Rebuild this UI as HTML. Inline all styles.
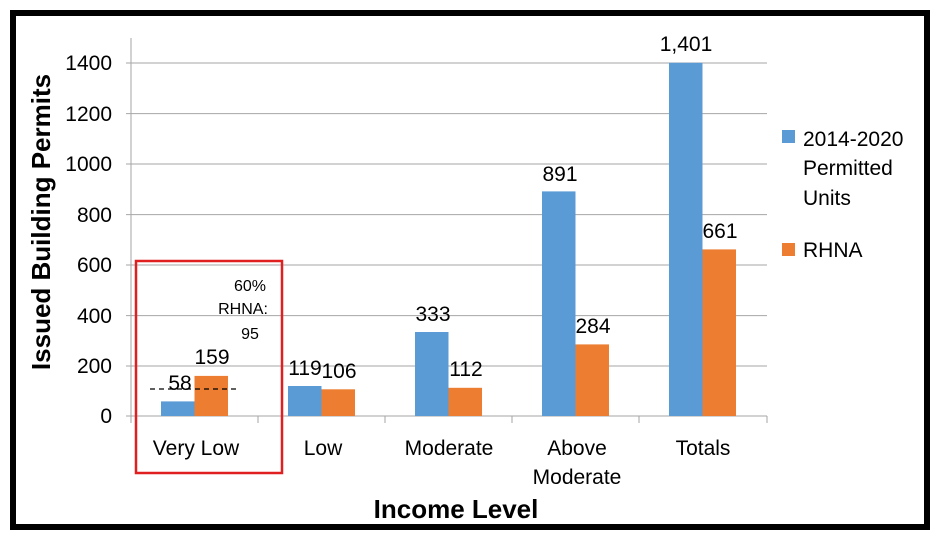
<!DOCTYPE html>
<html><head><meta charset="utf-8"><style>
body{margin:0;background:#fff}
svg text{font-family:"Liberation Sans",sans-serif;fill:#000}
</style></head><body>
<svg width="940" height="540" xmlns="http://www.w3.org/2000/svg">
<rect x="0" y="0" width="940" height="540" fill="#fff"/>
<rect x="13" y="13" width="914" height="514" fill="none" stroke="#000" stroke-width="6"/>
<g stroke="#a6a6a6" stroke-width="1">
<line x1="126" y1="63" x2="767" y2="63"/>
<line x1="126" y1="113.6" x2="767" y2="113.6"/>
<line x1="126" y1="164" x2="767" y2="164"/>
<line x1="126" y1="214.6" x2="767" y2="214.6"/>
<line x1="126" y1="265" x2="767" y2="265"/>
<line x1="126" y1="315.6" x2="767" y2="315.6"/>
<line x1="126" y1="366" x2="767" y2="366"/>
<line x1="126" y1="416" x2="767" y2="416"/>
<line x1="131" y1="38" x2="131" y2="423"/>
<line x1="258" y1="416" x2="258" y2="423"/>
<line x1="385" y1="416" x2="385" y2="423"/>
<line x1="512" y1="416" x2="512" y2="423"/>
<line x1="639" y1="416" x2="639" y2="423"/>
<line x1="767" y1="416" x2="767" y2="423"/>
</g>
<g font-size="21" text-anchor="end">
<text x="112" y="70">1400</text><text x="112" y="121">1200</text><text x="112" y="171">1000</text>
<text x="112" y="222">800</text><text x="112" y="272">600</text><text x="112" y="323">400</text>
<text x="112" y="373">200</text><text x="112" y="423">0</text>
</g>
<g fill="#5b9bd5">
<rect x="161" y="401.4" width="33.5" height="14.6"/>
<rect x="288" y="386" width="33.5" height="30"/>
<rect x="415" y="332" width="33.5" height="84"/>
<rect x="542" y="191.4" width="33.5" height="224.6"/>
<rect x="669" y="62.8" width="33.5" height="353.2"/>
</g>
<g fill="#ed7d31">
<rect x="194.5" y="375.9" width="33.5" height="40.1"/>
<rect x="321.5" y="389.3" width="33.5" height="26.7"/>
<rect x="448.5" y="387.8" width="33.5" height="28.2"/>
<rect x="575.5" y="344.4" width="33.5" height="71.6"/>
<rect x="702.5" y="249.4" width="33.5" height="166.6"/>
</g>
<line x1="150" y1="389" x2="238" y2="389" stroke="#000" stroke-width="1.2" stroke-dasharray="5,4"/>
<g font-size="21" text-anchor="middle">
<text x="180" y="390">58</text><text x="212" y="364">159</text>
<text x="305" y="375">119</text><text x="339" y="378">106</text>
<text x="433" y="321">333</text><text x="466" y="376">112</text>
<text x="560" y="181">891</text><text x="593" y="333">284</text>
<text x="686" y="51">1,401</text><text x="720" y="238">661</text>
</g>
<g font-size="16" text-anchor="middle">
<text x="250" y="291">60%</text><text x="243" y="314">RHNA:</text><text x="250" y="339">95</text>
</g>
<rect x="136" y="261" width="146" height="212" fill="none" stroke="#e02020" stroke-width="2.5"/>
<g font-size="21" text-anchor="middle">
<text x="196" y="455">Very Low</text><text x="323" y="455">Low</text>
<text x="449" y="455">Moderate</text><text x="577" y="455">Above</text>
<text x="577" y="484">Moderate</text><text x="703" y="455">Totals</text>
</g>
<rect x="782" y="130" width="13" height="13" fill="#5b9bd5"/>
<rect x="782" y="243" width="13" height="13" fill="#ed7d31"/>
<g font-size="21">
<text x="803" y="146">2014-2020</text><text x="803" y="175">Permitted</text>
<text x="803" y="205">Units</text><text x="803" y="257">RHNA</text>
</g>
<text x="456" y="518" font-size="26" font-weight="bold" text-anchor="middle">Income Level</text>
<text transform="translate(41,222) rotate(-90)" font-size="26" font-weight="bold" text-anchor="middle" dy="9">Issued Building Permits</text>
</svg>
</body></html>
